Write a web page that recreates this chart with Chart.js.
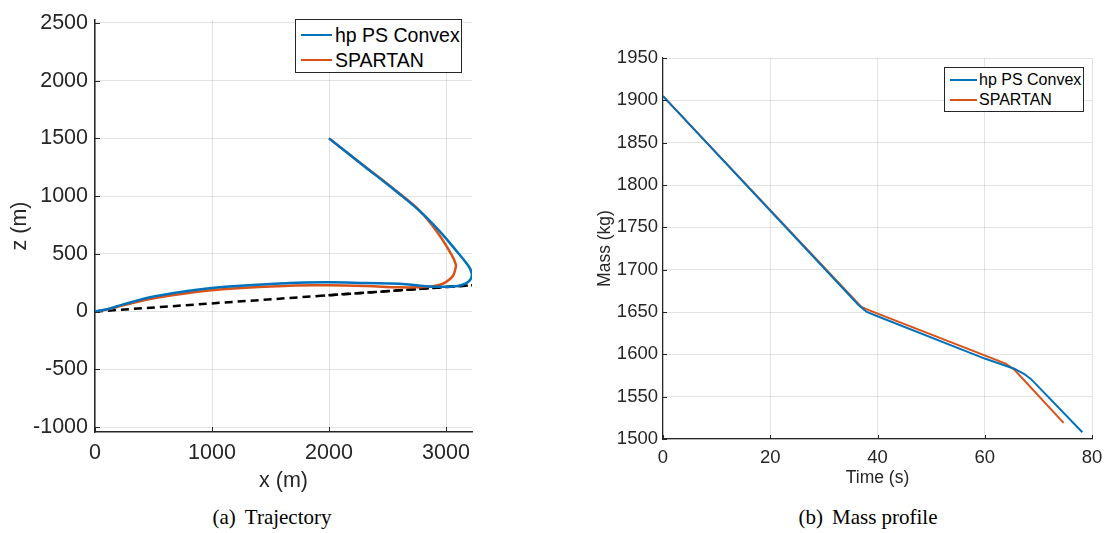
<!DOCTYPE html>
<html>
<head>
<meta charset="utf-8">
<script src="https://cdn.jsdelivr.net/npm/chart.js@4.4.0/dist/chart.umd.min.js"></script>
<style>
  html, body { margin: 0; padding: 0; background: #fff; }
  body { width: 1115px; height: 533px; position: relative; overflow: hidden; font-family: "Liberation Sans", Arial, sans-serif; }
  .wrap { position: absolute; }
  .legend { position: absolute; background: #fff; border: 1px solid #262626; box-sizing: border-box; }
  .row { position: absolute; display: flex; align-items: center; white-space: nowrap; color: #000; }
  .swatch { display: inline-block; height: 0; border-top-style: solid; }
  .caption { position: absolute; font-family: "Liberation Serif", "Times New Roman", serif; font-size: 21px; line-height: 24px; color: #000; white-space: nowrap; transform: translateX(-50%); }
  .caption span { margin-right: 9px; }
</style>
</head>
<body>
<div class="wrap" style="left:0;top:0;width:500px;height:500px;"><canvas id="c1" width="500" height="500"></canvas></div>
<div class="wrap" style="left:560px;top:0;width:555px;height:500px;"><canvas id="c2" width="555" height="500"></canvas></div>

<div class="legend" style="left:295px;top:19px;width:167px;height:54px;">
  <div class="row" style="left:5px;top:3px;height:24px;font-size:19.5px;"><span class="swatch" style="width:31px;border-top-width:2.5px;border-top-color:#0072BD;margin-right:3px;"></span>hp PS Convex</div>
  <div class="row" style="left:5px;top:28px;height:24px;font-size:19.5px;"><span class="swatch" style="width:31px;border-top-width:2.5px;border-top-color:#D95319;margin-right:3px;"></span>SPARTAN</div>
</div>
<div class="legend" style="left:944px;top:67px;width:140px;height:45px;">
  <div class="row" style="left:5px;top:2px;height:20px;font-size:16px;"><span class="swatch" style="width:27px;border-top-width:2px;border-top-color:#0072BD;margin-right:2px;"></span>hp PS Convex</div>
  <div class="row" style="left:5px;top:22px;height:20px;font-size:16px;"><span class="swatch" style="width:27px;border-top-width:2px;border-top-color:#D95319;margin-right:2px;"></span>SPARTAN</div>
</div>

<div class="caption" style="left:272px;top:505px;"><span>(a)</span>Trajectory</div>
<div class="caption" style="left:868px;top:505px;"><span>(b)</span>Mass profile</div>

<script>
// ---------- (a) Trajectory data ----------
const hpTrajX = [2000, 2290, 2570, 2790, 2960, 3100, 3192, 3220, 3210, 3170, 3100, 2950, 2828, 2600, 2316, 2000, 1662, 995, 525, 241, 120, 0];
const hpTrajZ = [1500, 1268, 1044, 857, 679, 511, 395, 330, 280, 245, 222, 214, 219, 241, 247, 253, 247, 204, 134, 62, 25, 0];
const spTrajX = [2000, 2290, 2570, 2780, 2930, 3040, 3083, 3078, 3060, 3026, 2984, 2930, 2870, 2750, 2600, 2316, 2000, 1662, 995, 525, 241, 120, 0];
const spTrajZ = [1500, 1270, 1048, 868, 680, 505, 410, 360, 310, 275, 247, 228, 216, 210, 210, 221, 227, 224, 185, 119, 54, 22, 0];
const slopeX = [0, 3222];
const slopeZ = [0, 228];
const slope2X = [1950, 3222];
const slope2Z = [138, 228];
const trajXTicks = [0, 1000, 2000, 3000];
const trajZTicks = [-1000, -500, 0, 500, 1000, 1500, 2000, 2500];

// ---------- (b) Mass profile data ----------
const hpTime = [0, 36.5, 38, 40, 60, 65.5, 67.3, 68.6, 78.2];
const hpMass = [1905, 1658, 1650, 1645, 1595, 1583, 1577, 1571, 1508];
const spTime = [0, 37, 38.5, 63.9, 65.5, 74.7];
const spMass = [1905, 1656, 1652, 1589, 1582, 1519];
const timeTicks = [0, 20, 40, 60, 80];
const massTicks = [1500, 1550, 1600, 1650, 1700, 1750, 1800, 1850, 1900, 1950];

const BLUE = '#0072BD', ORANGE = '#D95319', AXIS = '#262626', GRID = 'rgba(38,38,38,0.13)';
const pts = (xs, ys) => xs.map((x, i) => ({ x: x, y: ys[i] }));

const inwardTicks = {
  id: 'inwardTicks',
  afterDatasetsDraw(chart, args, opts) {
    const ctx = chart.ctx, a = chart.chartArea;
    const xs = chart.scales.x, ys = chart.scales.y;
    ctx.save();
    ctx.strokeStyle = AXIS;
    ctx.lineWidth = opts.width || 1;
    ctx.beginPath();
    xs.ticks.forEach(t => { const p = Math.round(xs.getPixelForValue(t.value)) + 0.5; ctx.moveTo(p, a.bottom); ctx.lineTo(p, a.bottom - opts.len); });
    ys.ticks.forEach(t => { const p = Math.round(ys.getPixelForValue(t.value)) + 0.5; ctx.moveTo(a.left, p); ctx.lineTo(a.left + opts.len, p); });
    ctx.stroke();
    ctx.restore();
  }
};

function axisCfg(o) {
  return {
    type: 'linear',
    min: o.min, max: o.max,
    afterBuildTicks: s => { s.ticks = o.ticks.map(v => ({ value: v })); },
    afterFit: s => { if (o.w !== undefined) s.width = o.w; if (o.h !== undefined) s.height = o.h; },
    ticks: { color: AXIS, font: { family: 'Liberation Sans', size: o.fs }, padding: o.pad, maxRotation: 0, autoSkip: false, callback: v => String(v) },
    grid: { color: GRID, lineWidth: 1, drawTicks: false },
    border: { display: true, color: AXIS, width: o.bw },
    title: { display: true, text: o.title, color: AXIS, font: { family: 'Liberation Sans', size: o.tfs }, padding: o.tpad }
  };
}

new Chart(document.getElementById('c1'), {
  type: 'scatter',
  data: {
    datasets: [
      { label: 'hp PS Convex', data: pts(hpTrajX, hpTrajZ), showLine: true, borderColor: BLUE, borderWidth: 2.5, pointRadius: 0, tension: 0.4, fill: false },
      { label: 'SPARTAN', data: pts(spTrajX, spTrajZ), showLine: true, borderColor: ORANGE, borderWidth: 2.5, pointRadius: 0, tension: 0.4, fill: false },
      { label: 'slope', data: pts(slopeX, slopeZ), showLine: true, borderColor: '#000', borderWidth: 2.5, borderDash: [8, 5], pointRadius: 0 },
      { label: 'slope2', data: pts(slope2X, slope2Z), showLine: true, borderColor: '#000', borderWidth: 2.5, borderDash: [8, 5], borderDashOffset: 6, pointRadius: 0 }
    ]
  },
  options: {
    responsive: false, animation: false, devicePixelRatio: 1,
    layout: { padding: { top: 13, right: 28, left: 0, bottom: 0 } },
    plugins: { legend: { display: false }, tooltip: { enabled: false }, inwardTicks: { len: 5, width: 1 } },
    scales: {
      x: axisCfg({ min: 0, max: 3222, ticks: trajXTicks, h: 68, fs: 21.5, pad: 8, bw: 1.5, title: 'x (m)', tfs: 21.5, tpad: { top: 0, bottom: 6 } }),
      y: axisCfg({ min: -1043, max: 2526, ticks: trajZTicks, w: 95, fs: 21.5, pad: 7, bw: 1.5, title: 'z (m)', tfs: 21.5, tpad: { top: 7, bottom: 0 } })
    }
  },
  plugins: [inwardTicks]
});

new Chart(document.getElementById('c2'), {
  type: 'scatter',
  data: {
    datasets: [
      { label: 'hp PS Convex', data: pts(hpTime, hpMass), showLine: true, borderColor: BLUE, borderWidth: 2, pointRadius: 0, tension: 0 },
      { label: 'SPARTAN', data: pts(spTime, spMass), showLine: true, borderColor: ORANGE, borderWidth: 2, pointRadius: 0, tension: 0 }
    ]
  },
  options: {
    responsive: false, animation: false, devicePixelRatio: 1,
    layout: { padding: { top: 58, right: 23, left: 0, bottom: 0 } },
    plugins: { legend: { display: false }, tooltip: { enabled: false }, inwardTicks: { len: 4, width: 1 } },
    scales: {
      x: axisCfg({ min: 0, max: 80, ticks: timeTicks, h: 61, fs: 18.5, pad: 8, bw: 1.2, title: 'Time (s)', tfs: 17.5, tpad: { top: 0, bottom: 11 } }),
      y: axisCfg({ min: 1500, max: 1950, ticks: massTicks, w: 103, fs: 18.5, pad: 5, bw: 1.2, title: 'Mass (kg)', tfs: 17.5, tpad: { top: 35, bottom: 0 } })
    }
  },
  plugins: [inwardTicks]
});
</script>
</body>
</html>
